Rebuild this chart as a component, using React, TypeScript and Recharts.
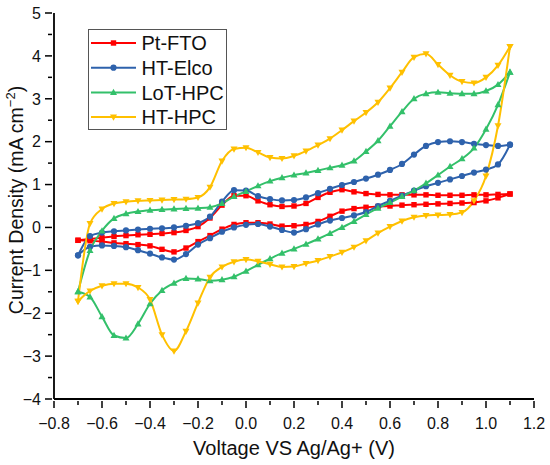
import React from 'react';
import { LineChart, Line, XAxis, YAxis } from 'recharts';

// potential sweep grid (V vs Ag/Ag+), both branches sampled on it
const SWEEP_V = [
  -0.7, -0.65, -0.6, -0.55, -0.5, -0.45, -0.4, -0.35, -0.3, -0.25, -0.2, -0.15, -0.1, -0.05,
  0, 0.05, 0.1, 0.15, 0.2, 0.25, 0.3, 0.35, 0.4, 0.45, 0.5, 0.55, 0.6, 0.65, 0.7, 0.75, 0.8,
  0.85, 0.9, 0.95, 1.0, 1.05, 1.1,
];

// current density (mA cm-2); anodic = upper branch, cathodic = lower branch (both ascending in V)
const PT_FTO_ANODIC = [
  -0.3, -0.27, -0.24, -0.21, -0.19, -0.17, -0.16, -0.14, -0.12, -0.07, 0.02, 0.22, 0.52, 0.74,
  0.74, 0.62, 0.53, 0.49, 0.5, 0.56, 0.7, 0.82, 0.88, 0.83, 0.79, 0.77, 0.76, 0.76, 0.76, 0.76,
  0.75, 0.75, 0.75, 0.76, 0.76, 0.77, 0.78,
];
const PT_FTO_CATHODIC = [
  -0.3, -0.31, -0.33, -0.36, -0.38, -0.4, -0.43, -0.51, -0.57, -0.48, -0.33, -0.19, -0.04, 0.07,
  0.11, 0.11, 0.08, 0.03, 0.04, 0.07, 0.14, 0.26, 0.38, 0.44, 0.47, 0.49, 0.5, 0.52, 0.53, 0.54,
  0.55, 0.56, 0.57, 0.58, 0.62, 0.69, 0.78,
];
const HT_ELCO_ANODIC = [
  -0.65, -0.2, -0.12, -0.09, -0.07, -0.05, -0.03, -0.02, 0.0, 0.04, 0.1, 0.25, 0.6, 0.87,
  0.86, 0.73, 0.66, 0.63, 0.64, 0.7, 0.8, 0.9, 0.99, 1.06, 1.14, 1.23, 1.34, 1.48, 1.7, 1.9,
  1.99, 2.01, 1.99, 1.95, 1.92, 1.9, 1.93,
];
const HT_ELCO_CATHODIC = [
  -0.65, -0.45, -0.42, -0.43, -0.46, -0.53, -0.61, -0.7, -0.75, -0.62, -0.4, -0.25, -0.1, 0.0,
  0.06, 0.08, 0.02, -0.06, -0.12, -0.04, 0.07, 0.16, 0.22, 0.28, 0.36, 0.5, 0.62, 0.74, 0.86,
  0.96, 1.04, 1.12, 1.2, 1.28, 1.35, 1.47, 1.93,
];
const LOT_HPC_ANODIC = [
  -1.5, -0.54, -0.08, 0.21, 0.32, 0.37, 0.4, 0.42, 0.43, 0.44, 0.45, 0.47, 0.56, 0.72,
  0.84, 0.97, 1.08, 1.16, 1.22, 1.27, 1.33, 1.39, 1.45, 1.55, 1.77, 2.02, 2.36, 2.7, 3.0, 3.12,
  3.15, 3.13, 3.12, 3.12, 3.18, 3.33, 3.62,
];
const LOT_HPC_CATHODIC = [
  -1.5, -1.62, -2.08, -2.52, -2.58, -2.25, -1.78, -1.47, -1.3, -1.19, -1.2, -1.24, -1.22, -1.15,
  -1.02, -0.87, -0.73, -0.6, -0.5, -0.39, -0.27, -0.14, 0.0, 0.14, 0.3, 0.45, 0.58, 0.72, 0.86,
  1.03, 1.22, 1.42, 1.6, 1.85, 2.29, 2.86, 3.62,
];
const HT_HPC_ANODIC = [
  -1.72, 0.09, 0.43, 0.56, 0.6, 0.62, 0.63, 0.64, 0.65, 0.66, 0.7, 0.94, 1.55, 1.83,
  1.86, 1.75, 1.63, 1.61, 1.67, 1.78, 1.92, 2.07, 2.27, 2.48, 2.68, 2.92, 3.25, 3.62, 3.97, 4.05,
  3.8, 3.55, 3.4, 3.37, 3.5, 3.78, 4.22,
];
const HT_HPC_CATHODIC = [
  -1.72, -1.48, -1.36, -1.31, -1.31, -1.4, -1.68, -2.5, -2.88, -2.42, -1.76, -1.16, -0.92, -0.8,
  -0.75, -0.79, -0.86, -0.92, -0.91, -0.84, -0.77, -0.68, -0.58, -0.46, -0.31, -0.13, 0.02, 0.15,
  0.24, 0.28, 0.29, 0.3, 0.35, 0.62, 1.2, 2.37, 4.22,
];

const X_TICKS = [-0.8, -0.7, -0.6, -0.5, -0.4, -0.3, -0.2, -0.1, 0, 0.1, 0.2, 0.3, 0.4, 0.5, 0.6, 0.7, 0.8, 0.9, 1.0, 1.1, 1.2];
const Y_TICKS = [-4, -3.5, -3, -2.5, -2, -1.5, -1, -0.5, 0, 0.5, 1, 1.5, 2, 2.5, 3, 3.5, 4, 4.5, 5];

const FONT = 'Arial, "Liberation Sans", Helvetica, sans-serif';
const MAJOR = 7;
const MINOR = 4;

type Pt = { x: number; y: number };
type Shape = 'square' | 'circle' | 'up' | 'down';

const branch = (values: number[]): Pt[] => SWEEP_V.map((v, i) => ({ x: v, y: values[i] }));

const SERIES: { name: string; color: string; shape: Shape; anodic: Pt[]; cathodic: Pt[] }[] = [
  { name: 'Pt-FTO', color: '#FF0000', shape: 'square', anodic: branch(PT_FTO_ANODIC), cathodic: branch(PT_FTO_CATHODIC) },
  { name: 'HT-Elco', color: '#2E62AC', shape: 'circle', anodic: branch(HT_ELCO_ANODIC), cathodic: branch(HT_ELCO_CATHODIC) },
  { name: 'LoT-HPC', color: '#33C06A', shape: 'up', anodic: branch(LOT_HPC_ANODIC), cathodic: branch(LOT_HPC_CATHODIC) },
  { name: 'HT-HPC', color: '#FFC000', shape: 'down', anodic: branch(HT_HPC_ANODIC), cathodic: branch(HT_HPC_CATHODIC) },
];

const Marker = ({ shape, color, cx, cy }: { shape: Shape; color: string; cx: number; cy: number }) => {
  if (shape === 'square') return <rect x={cx - 2.7} y={cy - 2.7} width={5.4} height={5.4} fill={color} />;
  if (shape === 'circle') return <circle cx={cx} cy={cy} r={3.1} fill={color} />;
  if (shape === 'up') return <path d={`M${cx},${cy - 3.7}L${cx + 3.5},${cy + 2.5}L${cx - 3.5},${cy + 2.5}Z`} fill={color} />;
  return <path d={`M${cx},${cy + 3.7}L${cx + 3.5},${cy - 2.5}L${cx - 3.5},${cy - 2.5}Z`} fill={color} />;
};

const dotFor = (shape: Shape, color: string) => (p: any) => {
  if (p.cx == null || p.cy == null) return <g key={`e-${p.index}`} />;
  return (
    <g key={`d-${p.index}`}>
      <Marker shape={shape} color={color} cx={p.cx} cy={p.cy} />
    </g>
  );
};

const fmt = (v: number, digits: number) => (v < 0 ? '\u2212' : '') + Math.abs(v).toFixed(digits);
const isMajorX = (v: number) => Math.abs(Math.round(v * 10)) % 2 === 0;
const isMajorY = (v: number) => Number.isInteger(v);

const BottomTick = ({ x, y, payload }: any) => {
  const major = isMajorX(payload.value);
  return (
    <g>
      <line x1={x} y1={y} x2={x} y2={y + (major ? MAJOR : MINOR)} stroke="#000" strokeWidth={1.5} />
      {major && (
        <text x={x} y={y + 27.5} textAnchor="middle" fontSize={16} fontFamily={FONT} fill="#111">
          {fmt(payload.value, 1)}
        </text>
      )}
    </g>
  );
};

const TopTick = ({ x, y, payload }: any) => {
  const major = isMajorX(payload.value);
  return <line x1={x} y1={y} x2={x} y2={y - (major ? MAJOR : MINOR)} stroke="#000" strokeWidth={1.5} />;
};

const LeftTick = ({ x, y, payload }: any) => {
  const major = isMajorY(payload.value);
  return (
    <g>
      <line x1={x - (major ? MAJOR : MINOR)} y1={y} x2={x} y2={y} stroke="#000" strokeWidth={1.5} />
      {major && (
        <text x={x - 11} y={y} dy="0.36em" textAnchor="end" fontSize={16} fontFamily={FONT} fill="#111">
          {fmt(payload.value, 0)}
        </text>
      )}
    </g>
  );
};

const RightTick = ({ x, y, payload }: any) => {
  const major = isMajorY(payload.value);
  return <line x1={x} y1={y} x2={x + (major ? MAJOR : MINOR)} y2={y} stroke="#000" strokeWidth={1.5} />;
};

const axisLine = { stroke: '#000', strokeWidth: 1.8 };

const Legend = () => (
  <div
    style={{
      position: 'absolute',
      left: 88,
      top: 29,
      width: 139,
      height: 101,
      border: '1px solid #555',
      background: '#fff',
      boxSizing: 'border-box',
    }}
  >
    <svg width={139} height={101} style={{ position: 'absolute', left: -1, top: -1 }}>
      {SERIES.map((s, i) => {
        const cy = 14 + i * 24.7;
        return (
          <g key={s.name}>
            <line x1={3} y1={cy} x2={48} y2={cy} stroke={s.color} strokeWidth={2} />
            <Marker shape={s.shape} color={s.color} cx={25.5} cy={cy} />
            <text x={53.5} y={cy} dy="0.36em" fontSize={20} fontFamily={FONT} fill="#111">
              {s.name}
            </text>
          </g>
        );
      })}
    </svg>
  </div>
);

export default function App() {
  return (
    <div style={{ position: 'absolute', left: 0, top: 0, width: 550, height: 465, background: '#fff' }}>
      <LineChart width={550} height={465} margin={{ top: 13, right: 16, bottom: 0, left: 0 }}>
        <XAxis
          dataKey="x"
          type="number"
          domain={[-0.8, 1.2]}
          ticks={X_TICKS}
          interval={0}
          height={66}
          tickSize={0}
          tickLine={false}
          tick={<BottomTick />}
          axisLine={axisLine}
          allowDataOverflow
          label={{
            content: ({ viewBox }: any) => (
              <text
                x={viewBox.x + viewBox.width / 2}
                y={455}
                textAnchor="middle"
                fontSize={20}
                fontFamily={FONT}
                fill="#111"
              >
                Voltage VS Ag/Ag+ (V)
              </text>
            ),
          }}
        />
        <XAxis
          xAxisId="top"
          orientation="top"
          dataKey="x"
          type="number"
          domain={[-0.8, 1.2]}
          ticks={X_TICKS}
          interval={0}
          height={0}
          tickSize={0}
          tickLine={false}
          tick={<TopTick />}
          axisLine={axisLine}
          allowDataOverflow
        />
        <YAxis
          type="number"
          domain={[-4, 5]}
          ticks={Y_TICKS}
          interval={0}
          width={54}
          tickSize={0}
          tickLine={false}
          tick={<LeftTick />}
          axisLine={axisLine}
          allowDataOverflow
          label={{
            content: () => (
              <text
                x={16}
                y={200}
                dy="0.36em"
                textAnchor="middle"
                transform="rotate(-90 16 200)"
                fontSize={19.5}
                fontFamily={FONT}
                fill="#111"
              >
                Current Density (mA cm
                <tspan dy={-8} fontSize={13}>
                  {'\u2212'}2
                </tspan>
                <tspan dy={8}>)</tspan>
              </text>
            ),
          }}
        />
        <YAxis
          yAxisId="right"
          orientation="right"
          type="number"
          domain={[-4, 5]}
          ticks={Y_TICKS}
          interval={0}
          width={0}
          tickSize={0}
          tickLine={false}
          tick={<RightTick />}
          axisLine={axisLine}
          allowDataOverflow
        />
        {SERIES.flatMap((s) =>
          (['anodic', 'cathodic'] as const).map((b) => (
            <Line
              key={`${s.name}-${b}`}
              name={s.name}
              data={s[b]}
              dataKey="y"
              type="monotone"
              stroke={s.color}
              strokeWidth={2}
              dot={dotFor(s.shape, s.color)}
              activeDot={false}
              legendType="none"
              isAnimationActive={false}
            />
          )),
        )}
      </LineChart>
      <Legend />
    </div>
  );
}
